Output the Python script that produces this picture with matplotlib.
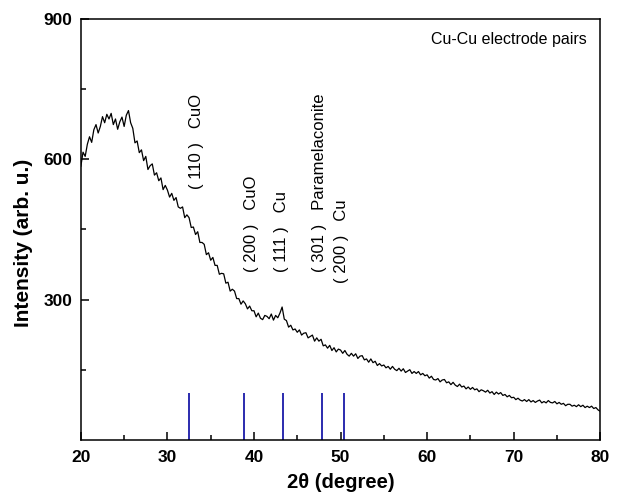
import matplotlib.pyplot as plt
import numpy as np

# XRD pattern, one value every 0.25 deg from 20 to 80
intensity = [
    585, 615, 606, 632, 648, 636, 663, 674, 656, 670, 691, 678, 696, 686, 698, 674, 686, 664, 680, 690,
    670, 694, 704, 678, 666, 635, 639, 614, 620, 597, 606, 578, 586, 590, 566, 571, 554, 560, 535, 544,
    534, 519, 527, 512, 518, 498, 495, 498, 475, 481, 475, 454, 455, 439, 445, 422, 422, 418, 396, 400,
    384, 390, 373, 373, 354, 356, 355, 335, 337, 318, 322, 318, 302, 302, 290, 297, 291, 280, 286, 276,
    276, 263, 271, 260, 257, 266, 264, 259, 269, 256, 266, 261, 271, 284, 258, 255, 241, 245, 235, 237,
    230, 235, 224, 228, 229, 218, 221, 224, 211, 218, 211, 215, 201, 203, 196, 202, 191, 197, 188, 194,
    192, 185, 191, 183, 179, 185, 179, 184, 174, 179, 180, 171, 173, 166, 173, 165, 168, 159, 163, 158,
    160, 154, 157, 151, 157, 151, 148, 153, 147, 152, 144, 147, 150, 142, 146, 142, 146, 139, 142, 137,
    139, 132, 136, 129, 128, 131, 124, 128, 129, 122, 124, 118, 123, 117, 114, 119, 113, 115, 109, 113,
    108, 112, 107, 109, 103, 107, 105, 102, 106, 100, 103, 97, 102, 98, 101, 95, 97, 92, 95, 90,
    91, 86, 89, 85, 83, 86, 82, 86, 81, 84, 80, 83, 85, 79, 82, 79, 84, 80, 79, 82,
    77, 80, 76, 78, 73, 76, 76, 72, 74, 71, 75, 71, 74, 69, 72, 69, 72, 67, 69, 64, 61,
]
two_theta = np.linspace(20, 80, len(intensity))

# reference peak positions (blue sticks)
peak_pos = [32.5, 38.9, 43.3, 47.8, 50.4]
peak_height = [100, 100, 100, 100, 100]
peak_labels = ["( 110 )   CuO", "( 200 )   CuO", "( 111 )   Cu",
               "( 301 )   Paramelaconite", "( 200 )   Cu"]

plt.rcParams['font.family'] = ['Liberation Sans', 'DejaVu Sans']

fig = plt.figure(figsize=(6.22, 4.97), dpi=100)
ax = fig.add_axes([0.130, 0.115, 0.835, 0.847])

ax.plot(two_theta, intensity, color='black', lw=0.9)
ax.vlines(peak_pos, 0, peak_height, color='#1a1aa8', lw=1.3)

# labels above the curve
label_xy = [(33.4, 536), (39.7, 358), (43.2, 358), (47.6, 358), (50.1, 336)]
for (x, y), txt in zip(label_xy, peak_labels):
    ax.text(x, y, txt, rotation=90, ha='center', va='bottom', fontsize=12)

ax.text(0.975, 0.950, "Cu-Cu electrode pairs", transform=ax.transAxes,
        ha='right', va='center', fontsize=11.5)

ax.set_xlim(20, 80)
ax.set_ylim(0, 900)
ax.set_xticks([20, 30, 40, 50, 60, 70, 80])
ax.set_xticks(np.arange(25, 80, 10), minor=True)
ax.set_yticks([300, 600, 900])
ax.set_yticks([150, 450, 750], minor=True)

ax.tick_params(which='both', direction='in', width=1.1, labelsize=12.5)
ax.tick_params(which='major', length=6)
ax.tick_params(which='minor', length=3.5)
ax.tick_params(axis='x', pad=7)
ax.tick_params(axis='y', pad=6)
for lab in ax.get_xticklabels() + ax.get_yticklabels():
    lab.set_fontweight('bold')
for sp in ax.spines.values():
    sp.set_linewidth(1.1)

ax.set_xlabel("2θ (degree)", fontsize=14.5, fontweight='bold', labelpad=6)
ax.set_ylabel("Intensity (arb. u.)", fontsize=15, fontweight='bold')
ax.yaxis.set_label_coords(-0.092, 0.468)

fig.savefig("out.png", dpi=100)
